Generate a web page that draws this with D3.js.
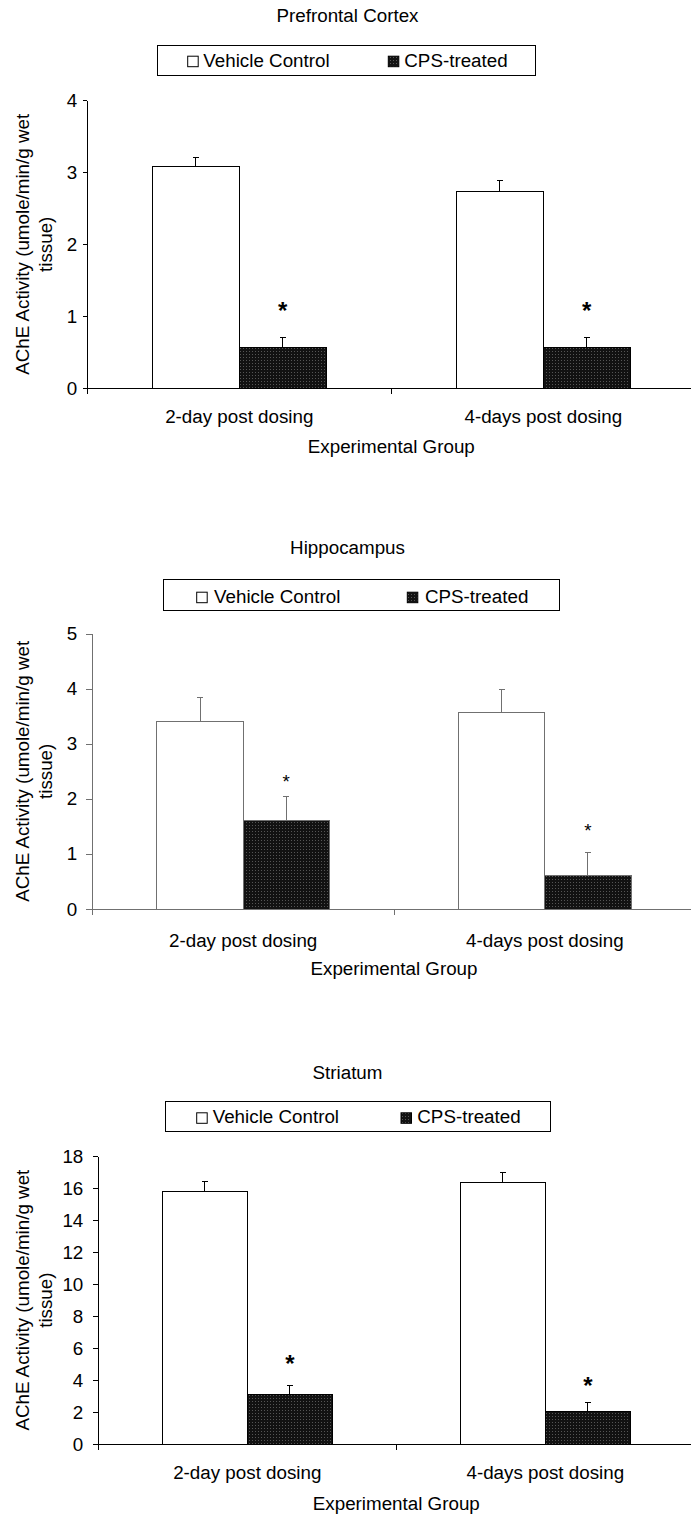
<!DOCTYPE html>
<html>
<head>
<meta charset="utf-8">
<script src="https://cdn.jsdelivr.net/npm/d3@7"></script>
<style>
  html, body { margin: 0; padding: 0; background: #fff; }
  svg { display: block; }
  text { font-family: "Liberation Sans", Arial, Helvetica, sans-serif; fill: #000; }
</style>
</head>
<body>
<svg id="chart" width="691" height="1515"></svg>
<script>
// ---- data ----
const categories = ["2-day post dosing", "4-days post dosing"];
const seriesNames = ["Vehicle Control", "CPS-treated"];
const axisTitleX = "Experimental Group";
const axisTitleY = ["AChE Activity (umole/min/g wet", "tissue)"];

// Prefrontal cortex
const pfcVehicle = [3.08, 2.74];
const pfcVehicleSE = [0.13, 0.14];
const pfcCPS = [0.57, 0.57];
const pfcCPSSE = [0.13, 0.13];
const pfcSignif = [1.16, 1.16];
const pfcTicks = [0, 1, 2, 3, 4];

// Hippocampus
const hipVehicle = [3.41, 3.56];
const hipVehicleSE = [0.44, 0.42];
const hipCPS = [1.60, 0.60];
const hipCPSSE = [0.44, 0.43];
const hipSignif = [2.40, 1.51];
const hipTicks = [0, 1, 2, 3, 4, 5];

// Striatum
const strVehicle = [15.8, 16.35];
const strVehicleSE = [0.6, 0.6];
const strCPS = [3.08, 2.02];
const strCPSSE = [0.6, 0.6];
const strSignif = [5.41, 4.01];
const strTicks = [0, 2, 4, 6, 8, 10, 12, 14, 16, 18];

const panels = [
  { title: "Prefrontal Cortex", vehicle: pfcVehicle, vehicleSE: pfcVehicleSE, cps: pfcCPS, cpsSE: pfcCPSSE,
    signif: pfcSignif, ticks: pfcTicks,
    L: { x0: 87.3, band: 304, yTop: 100.3, yBottom: 388.3, titleY: 21.5, line: "#000",
         tick: 4, pad: 6, xLabDy: 34.5, xTitleDy: 64.4, star: 24, starBold: true,
         leg: { x: 157.3, y: 45.7, w: 378.4, h: 29.3, s1: 30.4, t1: 46, s2: 231, t2: 247, base: 21 } } },
  { title: "Hippocampus", vehicle: hipVehicle, vehicleSE: hipVehicleSE, cps: hipCPS, cpsSE: hipCPSSE,
    signif: hipSignif, ticks: hipTicks,
    L: { x0: 92.3, band: 301.7, yTop: 633.7, yBottom: 909, titleY: 554, line: "#707070",
         tick: 6, pad: 9, xLabDy: 38, xTitleDy: 66, star: 18.8, starBold: false,
         leg: { x: 163.3, y: 579.3, w: 396, h: 31.4, s1: 33.4, t1: 50.7, s2: 244, t2: 261.7, base: 23.4 } } },
  { title: "Striatum", vehicle: strVehicle, vehicleSE: strVehicleSE, cps: strCPS, cpsSE: strCPSSE,
    signif: strSignif, ticks: strTicks,
    L: { x0: 98.3, band: 298, yTop: 1156, yBottom: 1444.3, titleY: 1079, line: "#000",
         tick: 5, pad: 10, xLabDy: 34.2, xTitleDy: 65.7, star: 24, starBold: true,
         leg: { x: 165, y: 1101.3, w: 385, h: 29.7, s1: 31.7, t1: 47.7, s2: 236, t2: 252.3, base: 22 } } }
];

// ---- drawing ----
const FONT = 18.8;
const svg = d3.select("#chart");
svg.append("rect").attr("width", 691).attr("height", 1515).attr("fill", "#fff");

// dark stippled fill used for the CPS-treated bars
const defs = svg.append("defs");
const pat = defs.append("pattern").attr("id", "cpsFill")
  .attr("patternUnits", "userSpaceOnUse").attr("width", 3).attr("height", 3);
pat.append("rect").attr("width", 3).attr("height", 3).attr("fill", "#121212");
pat.append("rect").attr("width", 1).attr("height", 1).attr("fill", "#555");

function drawPanel(p) {
  const L = p.L;
  const g = svg.append("g");

  const x = d3.scaleBand().domain(categories).range([L.x0, L.x0 + 2 * L.band]).padding(0);
  const xs = d3.scaleBand().domain(seriesNames).range([0, x.bandwidth()])
    .paddingInner(0).paddingOuter(0.75);
  const yMax = p.ticks[p.ticks.length - 1];
  const y = d3.scaleLinear().domain([0, yMax]).range([L.yBottom, L.yTop]);

  // title
  g.append("text").attr("x", 347.5).attr("y", L.titleY)
    .attr("text-anchor", "middle").attr("font-size", FONT).text(p.title);

  // legend
  const lg = L.leg;
  g.append("rect").attr("x", lg.x).attr("y", lg.y).attr("width", lg.w).attr("height", lg.h)
    .attr("fill", "#fff").attr("stroke", "#000").attr("stroke-width", 1).attr("shape-rendering", "crispEdges");
  const legItems = [
    { name: seriesNames[0], fill: "#fff", s: lg.s1, t: lg.t1 },
    { name: seriesNames[1], fill: "url(#cpsFill)", s: lg.s2, t: lg.t2 }
  ];
  const base = lg.y + lg.base;
  legItems.forEach(it => {
    g.append("rect").attr("x", lg.x + it.s).attr("y", base - 10.5).attr("width", 10.5).attr("height", 10.5)
      .attr("fill", it.fill).attr("stroke", "#000").attr("stroke-width", 1);
    g.append("text").attr("x", lg.x + it.t).attr("y", base).attr("font-size", FONT).text(it.name);
  });

  // bars
  const rows = categories.flatMap((c, i) => [
    { cat: c, s: seriesNames[0], v: p.vehicle[i], se: p.vehicleSE[i] },
    { cat: c, s: seriesNames[1], v: p.cps[i], se: p.cpsSE[i], star: p.signif[i] }
  ]);
  g.selectAll("rect.bar").data(rows).join("rect").attr("class", "bar")
    .attr("x", d => x(d.cat) + xs(d.s)).attr("width", xs.bandwidth())
    .attr("y", d => y(d.v)).attr("height", d => y(0) - y(d.v))
    .attr("fill", d => d.s === seriesNames[0] ? "#fff" : "url(#cpsFill)")
    .attr("stroke", L.line).attr("stroke-width", 1).attr("shape-rendering", "crispEdges");

  // upper error bars
  const cx = d => x(d.cat) + xs(d.s) + xs.bandwidth() / 2;
  const eb = g.selectAll("g.err").data(rows).join("g").attr("class", "err")
    .attr("stroke", L.line).attr("stroke-width", 1).attr("shape-rendering", "crispEdges");
  eb.append("line").attr("x1", cx).attr("x2", cx).attr("y1", d => y(d.v)).attr("y2", d => y(d.v + d.se));
  eb.append("line").attr("x1", d => cx(d) - 3).attr("x2", d => cx(d) + 3)
    .attr("y1", d => y(d.v + d.se)).attr("y2", d => y(d.v + d.se));

  // significance markers
  g.selectAll("text.star").data(rows.filter(d => d.star != null)).join("text").attr("class", "star")
    .attr("x", cx).attr("y", d => y(d.star) + 0.58 * L.star)
    .attr("text-anchor", "middle").attr("font-size", L.star)
    .attr("font-weight", L.starBold ? "bold" : "normal").text("*");

  // y axis
  const ya = g.append("g").attr("transform", `translate(${L.x0},0)`)
    .call(d3.axisLeft(y).tickValues(p.ticks).tickFormat(d3.format("d"))
      .tickSize(L.tick).tickSizeOuter(0).tickPadding(L.pad));
  ya.selectAll("path, line").attr("stroke", L.line).attr("shape-rendering", "crispEdges");
  ya.selectAll("text").attr("font-size", FONT).attr("font-family", null).attr("fill", "#000");

  // x axis: baseline with ticks at category boundaries, labels centred in each category
  const xb = d3.scaleLinear().domain([0, categories.length]).range([L.x0, L.x0 + 2 * L.band]);
  const xa = g.append("g").attr("transform", `translate(0,${y(0)})`)
    .call(d3.axisBottom(xb).tickValues(d3.range(categories.length + 1)).tickFormat("")
      .tickSize(6).tickSizeOuter(0));
  xa.selectAll("path, line").attr("stroke", L.line).attr("shape-rendering", "crispEdges");

  g.selectAll("text.cat").data(categories).join("text").attr("class", "cat")
    .attr("x", d => x(d) + x.bandwidth() / 2).attr("y", y(0) + L.xLabDy)
    .attr("text-anchor", "middle").attr("font-size", FONT).text(d => d);

  g.append("text").attr("x", L.x0 + L.band).attr("y", y(0) + L.xTitleDy)
    .attr("text-anchor", "middle").attr("font-size", FONT).text(axisTitleX);

  const midY = (L.yTop + L.yBottom) / 2;
  axisTitleY.forEach((t, i) => {
    g.append("text").attr("transform", `translate(${28.5 + i * 23},${midY}) rotate(-90)`)
      .attr("text-anchor", "middle").attr("font-size", FONT).text(t);
  });
}

panels.forEach(drawPanel);
</script>
</body>
</html>
